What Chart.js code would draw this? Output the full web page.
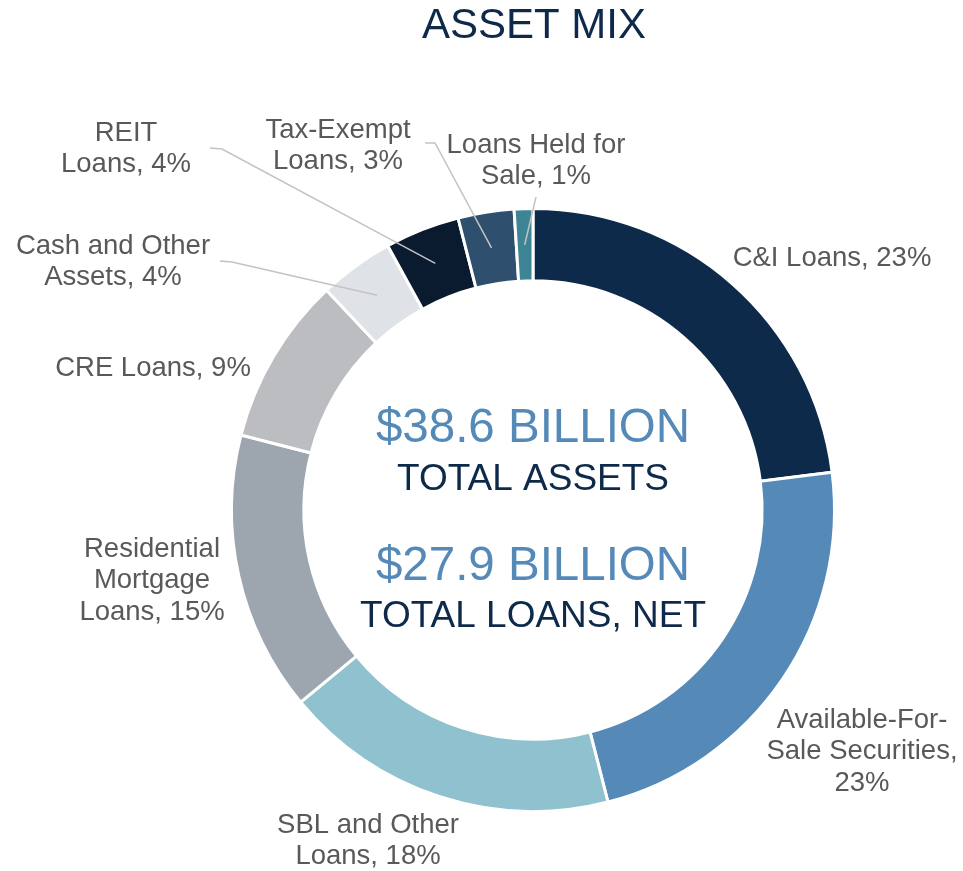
<!DOCTYPE html>
<html>
<head>
<meta charset="utf-8">
<title>Asset Mix</title>
<script src="https://cdn.jsdelivr.net/npm/chart.js@4"></script>
<style>
  html, body { margin: 0; padding: 0; background: #fff; }
  #assetChart { display: block; }
</style>
</head>
<body>
<canvas id="assetChart" width="963" height="871"></canvas>
<script>
// Asset mix, share of total assets (%)
const categories = [
    'C&I Loans',
    'Available-For-Sale Securities',
    'SBL and Other Loans',
    'Residential Mortgage Loans',
    'CRE Loans',
    'Cash and Other Assets',
    'REIT Loans',
    'Tax-Exempt Loans',
    'Loans Held for Sale'
];
const shares = [23, 23, 18, 15, 9, 4, 4, 3, 1];
const sliceColors = ['#0e2a4a', '#558ab8', '#8fc1ce', '#9da5af', '#bcbdc0',
                     '#dfe3e7', '#0b1b2f', '#2e4f6e', '#3d8595'];

// Text for the hole in the middle
const totalAssets = '$38.6 BILLION';
const totalLoans = '$27.9 BILLION';

// How each category label is broken into lines (last line gets the share)
const labelLines = [
    ['C&I Loans, '],
    ['Available-For-', 'Sale Securities,', ''],
    ['SBL and Other', 'Loans, '],
    ['Residential', 'Mortgage', 'Loans, '],
    ['CRE Loans, '],
    ['Cash and Other', 'Assets, '],
    ['REIT', 'Loans, '],
    ['Tax-Exempt', 'Loans, '],
    ['Loans Held for', 'Sale, ']
];

// Label placement: centre x, y of first line; leader = start point and elbow
const labelPos = [
    { x: 832, y: 258 },
    { x: 862, y: 720 },
    { x: 368, y: 825 },
    { x: 152, y: 549 },
    { x: 153, y: 368 },
    { x: 113, y: 246 },
    { x: 126, y: 133 },
    { x: 338, y: 130 },
    { x: 536, y: 145 }
];
const leaders = {
    5: [[220, 261], [232, 262]],
    6: [[210, 148], [222, 149]],
    7: [[425, 143], [435, 143]],
    8: [[536, 197]]
};

const labelFont = '27.5px "Liberation Sans", Arial, sans-serif';
const lineGap = 31.5;

const labelPlugin = {
    id: 'assetLabels',
    afterDraw(chart) {
        const ctx = chart.ctx;
        const arcs = chart.getDatasetMeta(0).data;
        ctx.save();

        // title
        ctx.textAlign = 'center';
        ctx.textBaseline = 'middle';
        ctx.fillStyle = '#0e2a4a';
        ctx.font = '42px "Liberation Sans", Arial, sans-serif';
        ctx.fillText('ASSET MIX', 534, 26);

        // centre totals
        const cx = arcs[0].x;
        ctx.font = '47.5px "Liberation Sans", Arial, sans-serif';
        ctx.fillStyle = '#558ab8';
        ctx.fillText(totalAssets, cx, 429);
        ctx.fillText(totalLoans, cx, 567);
        ctx.font = '37px "Liberation Sans", Arial, sans-serif';
        ctx.fillStyle = '#0e2a4a';
        ctx.fillText('TOTAL ASSETS', cx, 480);
        ctx.fillText('TOTAL LOANS, NET', cx, 617);

        // leader lines into the small slices
        ctx.strokeStyle = '#c3c3c3';
        ctx.lineWidth = 1.5;
        Object.keys(leaders).forEach(k => {
            const pts = leaders[k];
            const end = arcs[k].getCenterPoint();
            ctx.beginPath();
            ctx.moveTo(pts[0][0], pts[0][1]);
            for (let i = 1; i < pts.length; i++) ctx.lineTo(pts[i][0], pts[i][1]);
            ctx.lineTo(end.x, end.y);
            ctx.stroke();
        });

        // category labels
        ctx.font = labelFont;
        ctx.fillStyle = '#595959';
        labelLines.forEach((lines, i) => {
            const p = labelPos[i];
            lines.forEach((ln, j) => {
                let txt = ln;
                if (j === lines.length - 1) txt += shares[i] + '%';
                ctx.fillText(txt, p.x, p.y + j * lineGap);
            });
        });
        ctx.restore();
    }
};

new Chart(document.getElementById('assetChart'), {
    type: 'doughnut',
    data: {
        labels: categories,
        datasets: [{
            data: shares,
            backgroundColor: sliceColors,
            borderColor: '#ffffff',
            borderWidth: 3
        }]
    },
    options: {
        responsive: false,
        devicePixelRatio: 1,
        animation: false,
        events: [],
        cutout: '76%',
        rotation: 0,
        layout: {
            padding: { left: 230, top: 207, right: 127, bottom: 58 }
        },
        plugins: {
            legend: { display: false },
            tooltip: { enabled: false }
        }
    },
    plugins: [labelPlugin]
});
</script>
</body>
</html>
